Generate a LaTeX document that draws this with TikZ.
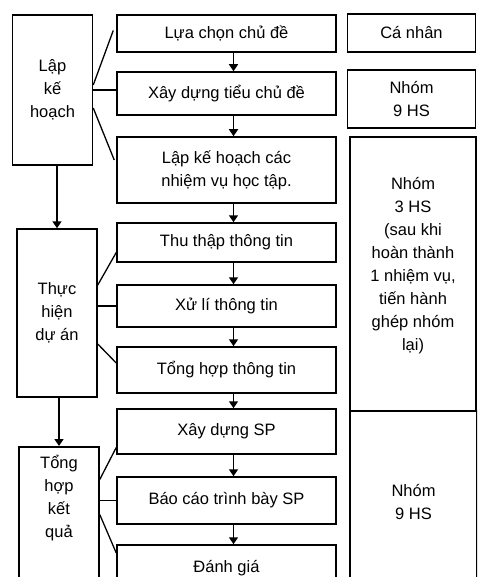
\documentclass[tikz,border=0pt]{standalone}
\usepackage{fontspec}
\setmainfont{Liberation Sans}
\usetikzlibrary{arrows.meta, calc}

\begin{document}
\begin{tikzpicture}[x=1pt, y=-1pt,
    every node/.style={font=\fontsize{16.5}{23}\selectfont},
    stage/.style={rectangle, draw, line width=1.5pt, minimum width=80pt, align=center},
    task/.style={rectangle, draw, line width=1.5pt, minimum width=219pt, align=center},
    team/.style={rectangle, draw, line width=1.5pt, minimum width=128pt, align=center},
    arrow/.style={-{Triangle[length=7pt, width=9pt]}, line width=1.5pt},
    link/.style={line width=1.3pt}
]

\useasboundingbox (0,0) rectangle (477,577);
\clip (0,0) rectangle (477,577);

% Stages (left column)
\node[stage, minimum height=150pt] (plan) at (52.5,90) {Lập\\kế\\hoạch};
\node[stage, minimum height=168pt] (do) at (57,313) {Thực\\hiện\\dự án};
\node[stage, anchor=north, inner ysep=8pt] (sum) at (59,446) {Tổng\\hợp\\kết\\quả\rule[-60pt]{0pt}{60pt}};

% Tasks (middle column)
\node[task, minimum height=37pt] (choose) at (226.5,33.5) {Lựa chọn chủ đề};
\node[task, minimum height=43pt] (sub) at (226.5,93.5) {Xây dựng tiểu chủ đề};
\node[task, minimum height=66pt] (tasks) at (226.5,170) {Lập kế hoạch các\\nhiệm vụ học tập.};
\node[task, minimum height=39pt] (collect) at (226.5,242.5) {Thu thập thông tin};
\node[task, minimum height=42pt] (process) at (226.5,306) {Xử lí thông tin};
\node[task, minimum height=46pt] (combine) at (226.5,370) {Tổng hợp thông tin};
\node[task, minimum height=45pt] (product) at (226.5,431.5) {Xây dựng SP};
\node[task, minimum height=47pt] (report) at (226.5,500.5) {Báo cáo trình bày SP};
\node[task, minimum height=46pt] (assess) at (226.5,568) {Đánh giá};

% Teams (right column)
\node[team, minimum height=38pt] (solo) at (411.5,33) {Cá nhân};
\node[team, minimum height=58pt] (groupnine) at (411.5,99) {Nhóm\\9 HS};
\node[team, minimum width=126pt, minimum height=274pt] (groupthree) at (413,274) {Nhóm\\3 HS\\(sau khi\\hoàn thành\\1 nhiệm vụ,\\tiến hành\\ghép nhóm\\lại)\rule[-20pt]{0pt}{20pt}};
\node[team, minimum width=127pt, minimum height=182pt] (groupall) at (413.5,502) {Nhóm\\9 HS};

% Arrows between stages
\draw[arrow] (do.north |- plan.south) -- (do.north);
\draw[arrow] (sum.north |- do.south) -- (sum.north);

% Arrows between tasks
\foreach \a/\b in {choose/sub, sub/tasks, tasks/collect, collect/process, process/combine, combine/product, product/report, report/assess}
  \draw[arrow] ($(\a.south)+(7,0)$) -- ($(\b.north)+(7,0)$);

% Stage to task links
\draw[link] ($(plan.east)+(0,-5)$) -- ($(choose.west)+(-3,-3)$);
\draw[link] (plan.east) -- (plan.east -| sub.west);
\draw[link] ($(plan.east)+(0,18)$) -- ($(tasks.west)+(-2,-10)$);

\draw[link] ($(do.east)+(0,-28)$) -- ($(collect.west)+(0,10)$);
\draw[link] (process.west -| do.east) -- (process.west);
\draw[link] ($(do.east)+(0,31)$) -- ($(combine.west)+(0,-7)$);

\draw[link] ($(report.west -| sum.east)+(0,-21)$) -- ($(product.west)+(0,16)$);
\draw[link] (report.west -| sum.east) -- (report.west);
\draw[link] ($(report.west -| sum.east)+(0,14)$) -- ($(assess.west)+(0,-15)$);

\end{tikzpicture}
\end{document}
